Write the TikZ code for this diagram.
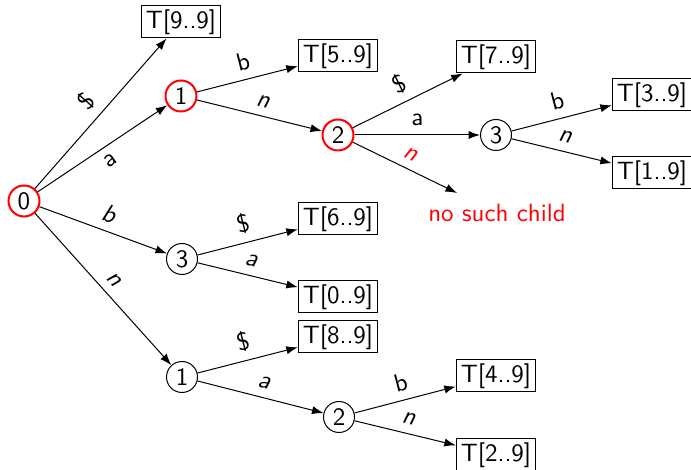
\documentclass[tikz,border=0pt]{standalone}
\usepackage{fontspec}
\usepackage{tikz}
\usetikzlibrary{arrows.meta,shapes}

\begin{document}
\begin{tikzpicture}[scale=0.4,font=\sffamily,
  vis/.style={draw=red,circle,line width=0.8pt,inner sep=1pt,minimum size=12.4pt},
  nd/.style={draw,circle,inner sep=1pt,minimum size=12.4pt},
  lf/.style={draw,rectangle,inner xsep=1.8pt,inner ysep=1.4pt},
  ed/.style={-{Latex[length=4.6pt,width=3.3pt]},line width=0.4pt},
  lb/.style={midway,sloped,above}]
\useasboundingbox (0pt,0pt) rectangle (691pt,-470pt);
\node (V0) at (24pt,-201pt)[vis] {0};
\node (V1) at (181pt,-96pt)[vis] {1};
\node (V2) at (338pt,-135pt)[vis] {2};
\node (V3) at (496pt,-135pt)[nd] {3};
\node (V4) at (182pt,-259pt)[nd] {3};
\node (V5) at (182pt,-377pt)[nd] {1};
\node (V6) at (339pt,-417pt)[nd] {2};
\node (L99) at (181pt,-22pt)[lf] {T[9..9]};
\node (L59) at (338pt,-56pt)[lf] {T[5..9]};
\node (L79) at (496pt,-57pt)[lf] {T[7..9]};
\node (L39) at (652pt,-95pt)[lf] {T[3..9]};
\node (L19) at (652pt,-173pt)[lf] {T[1..9]};
\node (L69) at (338pt,-219pt)[lf] {T[6..9]};
\node (L09) at (338pt,-297pt)[lf] {T[0..9]};
\node (L89) at (338pt,-337pt)[lf] {T[8..9]};
\node (L49) at (496pt,-376pt)[lf] {T[4..9]};
\node (L29) at (496pt,-455pt)[lf] {T[2..9]};
\coordinate (NSC) at (457pt,-193pt);
\node (NS) at (497pt,-213pt)[text=red] {no such child};
\draw [ed] (V0) to node[lb] {\$} (L99);
\draw [ed] (V0) to node[lb,below] {a} (V1);
\draw [ed] (V0) to node[lb] {\itshape b} (V4);
\draw [ed] (V0) to node[lb] {\itshape n} (V5);
\draw [ed] (V1) to node[lb] {b} (L59);
\draw [ed] (V1) to node[lb] {\itshape n} (V2);
\draw [ed] (V2) to node[lb] {\$} (L79);
\draw [ed] (V2) to node[lb] {a} (V3);
\draw [ed] (V2) to node[lb,text=red] {\itshape n} (NSC);
\draw [ed] (V3) to node[lb] {b} (L39);
\draw [ed] (V3) to node[lb] {\itshape n} (L19);
\draw [ed] (V4) to node[lb] {\$} (L69);
\draw [ed] (V4) to node[lb] {\itshape a} (L09);
\draw [ed] (V5) to node[lb] {\$} (L89);
\draw [ed] (V5) to node[lb] {\itshape a} (V6);
\draw [ed] (V6) to node[lb] {b} (L49);
\draw [ed] (V6) to node[lb] {\itshape n} (L29);
\end{tikzpicture}
\end{document}
